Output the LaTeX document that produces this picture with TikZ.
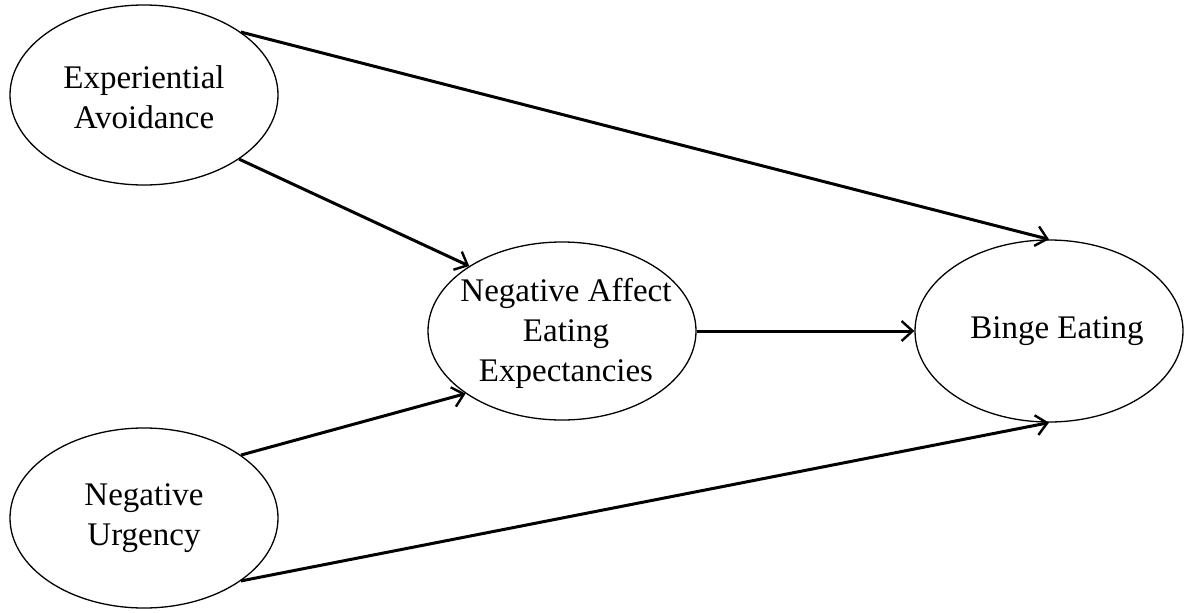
\documentclass[tikz,border=0pt]{standalone}
\usepackage{fontspec}
\setmainfont{Liberation Serif}
\usetikzlibrary{shapes.geometric,arrows.meta}
\begin{document}
\begin{tikzpicture}[x=1pt,y=-1pt,
  oval/.style={ellipse,draw=black,line width=1.3pt,inner sep=0pt,
    minimum width=268pt,minimum height=180pt},
  txt/.style={align=center,inner sep=0pt,font=\fontsize{33}{40}\selectfont},
  link/.style={line width=3pt,-{Straight Barb[length=11pt,width=20pt,line width=2.4pt]}}]
\useasboundingbox (0,0) rectangle (1194,613);
\node[oval] (EA) at (144,95) {};
\node[txt] (EAt) at ([yshift=-2pt]EA.center) {Experiential\\Avoidance};
\node[oval] (NU) at (144,518) {};
\node[txt] (NUt) at (NU.center) {Negative\\Urgency};
\node[oval,minimum height=178pt] (NA) at (562,331) {};
\node[txt] (NAt) at ([xshift=4pt,yshift=-2pt]NA.center) {Negative Affect\\Eating\\Expectancies};
\node[oval,minimum height=182pt] (BE) at (1049,331) {};
\node[txt] (BEt) at ([xshift=8pt]BE.center) {Binge Eating};
\draw[link] (EA.33) -- (BE.north);
\draw[link] (EA.-34) -- (NA.145);
\draw[link] (NU.33) -- (NA.213);
\draw[link] (NU.-33) -- (BE.south);
\draw[link] (NA.east) -- (BE.west);
\end{tikzpicture}
\end{document}
